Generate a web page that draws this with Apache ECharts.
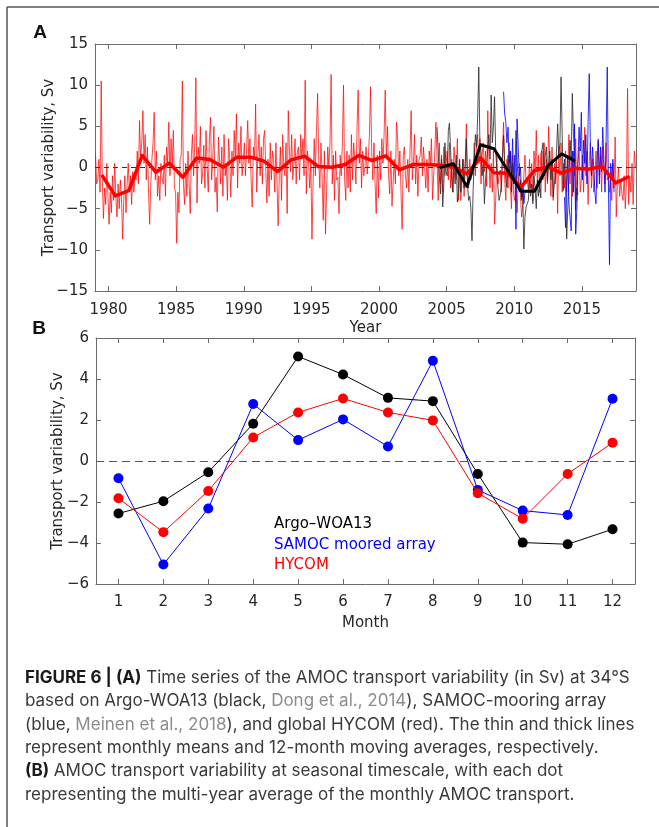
<!DOCTYPE html>
<html>
<head>
<meta charset="utf-8">
<script src="https://cdn.jsdelivr.net/npm/echarts@6/dist/echarts.min.js"></script>
<style>html,body{margin:0;padding:0;background:#fff}#c{width:659px;height:827px}</style>
</head>
<body>
<div id="c"></div>
<script>
// ---------------- Panel A data ----------------
const yearTicks = [1980, 1985, 1990, 1995, 2000, 2005, 2010, 2015];
const panelAYTicksRange = [-15, 15];

// HYCOM monthly means, Jan 1979 - Dec 2018 (Sv)
const hycomStartYear = 1979, hycomStartMonth = 0;
const hycomMonthly = [
  1.5, -2.0, -1.5, 1.0, -3.0, 10.5, -1.5, -6.2, -2.5, -4.5, 0.5, -3.5,      // 1979
  -6.9, -3.0, -5.5, -1.0, -4.0, 0.5, -3.5, -6.0, -2.0, -5.0, -1.5, -3.5,    // 1980
  -8.7, -4.0, -1.0, -5.5, -2.0, 0.5, -3.0, -1.0, -4.5, -0.5, -3.0, -1.0,    // 1981
  -1.5, 2.0, -2.0, 5.7, 1.0, 3.0, 6.9, 0.5, 4.0, -1.5, 2.5, -3.0,           // 1982
  -6.9, -2.0, 1.0, 3.0, 6.7, -1.5, 2.0, -3.5, -1.0, -4.0, 0.5, -1.2,        // 1983
  -2.0, 1.5, -3.5, 2.5, 0.5, 5.5, -1.0, 3.5, 0.0, 4.5, -2.5, -3.0,          // 1984
  -9.2, -3.0, -5.5, 1.0, 1.5, 10.5, -2.0, -4.5, 0.5, -3.5, 2.0, -2.0,       // 1985
  -5.6, 1.5, 4.0, -1.0, 3.0, 10.9, -4.3, 2.5, 0.5, 5.0, -2.0, -0.8,         // 1986
  2.7, -2.5, 4.5, 0.0, -3.0, 3.5, 6.1, -1.5, 1.0, 5.0, -3.0, -1.2,          // 1987
  -5.4, 3.7, 1.0, -2.0, 2.5, -3.5, 4.0, -1.0, 0.5, -4.0, 3.5, 1.2,          // 1988
  -3.6, 2.0, -1.0, 4.5, 1.0, 6.5, -2.5, 3.0, 0.5, 5.0, -1.0, 0.7,           // 1989
  3.0, -1.0, 2.0, 5.7, 0.5, 3.5, -1.5, -4.8, 2.5, 1.0, 7.7, -3.0,           // 1990
  1.5, 4.0, -1.0, 2.5, -2.0, 3.5, 4.5, 0.0, -4.3, 1.0, -3.5, 3.0,           // 1991
  -1.5, 2.0, 1.0, -3.0, 3.0, -2.0, -7.1, -1.0, 2.5, -4.0, 4.0, 0.2,         // 1992
  -1.0, 3.0, -5.6, 6.9, 2.0, -0.5, 4.0, -1.5, 0.5, 3.5, -2.0, 1.9,          // 1993
  2.5, -1.5, 4.0, 1.0, 3.5, -1.0, 10.6, -3.2, 2.0, 0.5, -2.5, 0.6,          // 1994
  -8.7, -2.0, 3.5, -1.0, 4.5, 9.0, 1.0, -2.5, 3.0, -1.0, -6.4, 2.0,         // 1995
  -8.1, -3.0, 2.5, 0.0, 3.0, 11.3, -2.0, 1.5, -4.0, 2.0, -1.5, -1.2,        // 1996
  -5.6, 1.5, -1.0, 3.0, 10.0, -1.5, -4.0, 2.0, -2.5, 1.5, -3.0, 4.0,        // 1997
  -1.5, 3.0, 1.0, -2.0, 5.0, 9.4, 0.5, 3.5, -2.5, 2.0, -1.0, 0.1,           // 1998
  2.5, -0.8, 1.0, 4.0, 9.8, 2.0, -1.5, 3.0, -2.0, -5.6, 1.5, -3.7,          // 1999
  2.0, -1.5, 3.5, 0.5, 4.0, 9.4, 1.0, 5.0, -1.0, -3.2, 2.0, -4.7,           // 2000
  -4.8, 1.0, -2.0, 5.5, 3.5, -1.0, 2.0, -3.0, -7.5, 1.5, 2.5, -1.0,         // 2001
  -2.5, 1.0, -3.0, 2.0, 6.9, -1.5, 0.5, 4.0, -2.0, 1.5, -3.5, 0.9,          // 2002
  1.5, 3.7, -1.0, 2.5, 0.0, -2.5, 1.0, -3.0, 2.0, 0.5, 3.5, -3.9,           // 2003
  -1.0, 2.0, 5.5, 1.0, -4.0, 3.0, -2.0, 1.5, -3.0, 2.5, -1.0, -1.1,         // 2004
  2.0, -1.5, 3.0, -2.5, 1.0, -3.0, 2.5, 0.5, -1.5, 3.5, -4.0, 0.5,          // 2005
  -4.0, -2.0, 1.0, -3.5, 0.5, 5.3, -2.0, -2.5, 1.0, -1.5, -0.5, -1.0,       // 2006
  3.0, -1.0, 2.5, 4.0, 0.5, 3.5, -2.0, 1.5, 3.0, -0.5, 2.0, -2.3,           // 2007
  6.9, 1.0, -2.5, 0.5, -3.0, 2.0, -6.9, -4.0, 1.5, -2.0, -1.0, -0.3,        // 2008
  -3.0, 2.0, 5.5, -1.5, -4.0, 1.0, -2.5, 3.0, -2.0, -5.0, 1.5, -3.3,        // 2009
  -4.0, -1.0, -5.5, -2.0, 0.5, -3.5, -6.0, -4.5, -1.0, 1.5, -2.0, -1.2,     // 2010
  -3.0, 1.0, -2.5, 0.5, -4.0, 2.0, -1.0, 4.5, -2.0, 1.5, -3.0, 1.7,         // 2011
  2.0, -1.5, 3.0, -3.0, 1.0, -2.0, 5.0, 0.5, -3.5, 2.5, -4.0, 0.5,          // 2012
  -2.0, 1.0, -5.6, 2.5, -1.0, 3.0, -3.0, 0.5, -2.5, 2.0, -3.0, -0.2,        // 2013
  4.0, -2.0, 1.5, -3.5, 2.0, -1.0, 3.5, -4.0, 0.5, 2.5, -3.0, -1.5,         // 2014
  1.5, -3.0, 4.9, -1.0, 2.0, -4.5, 0.5, 3.0, -2.5, 1.0, -3.0, -1.3,         // 2015
  2.0, -2.5, 3.5, -1.0, 1.5, -3.0, 2.5, 0.0, -2.0, 3.0, -1.5, -1.1,         // 2016
  -3.0, -1.0, -4.0, 0.5, -2.5, 3.7, -6.0, -2.0, 0.0, -3.5, -1.5, -3.2,      // 2017
  -4.0, -1.0, -5.0, -2.0, 9.6, -4.5, -1.0, -3.0, 0.5, -4.5, 2.0, 0.0        // 2018
];

// HYCOM 12-month moving average, sampled at mid-year 1979..2018
const hycomAnnualStartYear = 1979;
const hycomAnnual = [
  -0.9, -3.45, -2.8, 1.46, -0.57, 0.53, -1.18, 1.14, 0.97, 0.04,
  1.26, 1.26, 0.77, -0.49, 0.93, 1.38, 0.12, 0.04, 0.36, 1.46,
  0.85, 1.42, -0.28, 0.36, 0.36, 0.28, 0.04, -0.77, 1.18, -0.65,
  -0.69, -2.39, -0.36, 0.04, -0.69, -0.08, -0.2, 0.12, -1.87, -1.09
];

// Argo-WOA13 monthly means, Apr 2004 - Sep 2014
const argoStartYear = 2004, argoStartMonth = 3;
const argoMonthly = [
  4.9, 2.0, -1.0, -3.2, 1.0, -4.8, -2.0, 3.0, -0.5,                          // 2004
  -1.0, 4.5, 5.4, 2.1, -1.5, -3.0, 0.5, -2.0, 1.5, -4.2, -3.0, 1.0,          // 2005
  -3.0, -1.0, 1.0, -2.5, 0.5, 3.5, -2.0, -4.0, -3.5, -5.0, -8.9, -2.8,       // 2006
  1.0, 4.0, 2.5, 6.0, 12.2, 3.0, 2.0, -1.0, 0.5, -4.4, -1.5, 0.0,            // 2007
  2.5, 4.0, 1.0, 8.8, 3.0, 5.0, 8.6, 2.0, 2.1, -2.4, -4.0, -3.4,             // 2008
  -2.4, 1.0, 3.9, 0.5, -1.5, -2.4, 1.5, -1.0, 2.0, -3.0, 0.5, -2.0,          // 2009
  -1.0, 4.5, 1.0, -2.0, -3.0, -1.5, -4.0, -3.0, -9.9, -6.0, -4.8, -4.9,      // 2010
  -4.0, -1.5, -3.5, -2.0, -4.4, -1.0, -2.5, -5.0, -1.5, -3.5, -2.0, -3.7,    // 2011
  2.1, 3.0, -1.0, 1.5, 2.5, -1.6, 0.5, 2.0, -1.5, 1.0, -3.6, -2.0,           // 2012
  -1.0, 2.0, 5.3, 1.5, 3.0, 11.0, 4.0, -2.8, 1.0, -2.0, -8.7, -4.9,          // 2013
  -1.0, 3.3, 1.0, 9.0, 4.0, 2.0, -5.2, -2.5, -3.3                            // 2014
];

// Argo-WOA13 12-month moving average, mid-year 2004..2014
const argoAnnualStartYear = 2004;
const argoAnnual = [0.0, 0.45, -2.31, 2.76, 2.27, -0.3, -2.88, -2.88, 0.24, 1.66, 0.77];

// SAMOC moored array monthly means: Mar 2009 - Oct 2010, Sep 2013 - May 2017
const samoc1StartYear = 2009, samoc1StartMonth = 2;
const samocMonthly1 = [
  9.2, 6.5, 5.5, 3.0, 4.9, 0.5, 2.0, -1.0, 3.5, -2.0,
  1.5, -7.5, 5.9, 2.5, -1.0, 0.0, -3.6, -2.0, -4.4, -3.0
];
const samoc2StartYear = 2013, samoc2StartMonth = 8;
const samocMonthly2 = [
  -3.6, -7.3, -2.0, 1.5,                                                      // 2013
  -4.5, -6.0, -7.7, 2.0, -3.0, 5.3, -8.1, -5.0, 1.0, 4.9, 2.0, 6.7,           // 2014
  -1.5, 3.3, 0.5, 4.0, -2.0, 5.5, 11.4, 3.0, -1.0, 2.5, 0.0, -3.0,            // 2015
  -4.4, 1.0, 3.3, -2.0, 2.5, -0.5, 4.9, 1.0, -3.0, 3.5, 12.2, -2.0,           // 2016
  -11.8, 0.5, -1.5, 1.0, -3.0                                                 // 2017
];

// ---------------- Panel B data ----------------
const months = [1, 2, 3, 4, 5, 6, 7, 8, 9, 10, 11, 12];
const argoSeasonal  = [-2.56, -1.96, -0.55, 1.82, 5.10, 4.22, 3.08, 2.92, -0.63, -3.98, -4.06, -3.33];
const samocSeasonal = [-0.84, -5.05, -2.32, 2.78, 1.02, 2.03, 0.71, 4.89, -1.41, -2.42, -2.63, 3.04];
const hycomSeasonal = [-1.82, -3.47, -1.46, 1.15, 2.37, 3.05, 2.37, 1.98, -1.57, -2.82, -0.63, 0.89];

const seriesNames = ['Argo–WOA13', 'SAMOC moored array', 'HYCOM'];

// ---------------- helpers ----------------
function monthlyPoints(startYear, startMonth, vals) {
  return vals.map((v, i) => [startYear + (startMonth + i + 0.5) / 12, v]);
}
function annualPoints(startYear, vals) {
  return vals.map((v, i) => [startYear + i + 0.5, v]);
}
function zip(xs, ys) { return xs.map((x, i) => [x, ys[i]]); }
const minus = v => (v < 0 ? '\u2212' + Math.abs(v) : String(v));

const AX = '#6b6b6b';
const TXT = '#262626';
const FONT = 'DejaVu Sans';
const labelStyle = { color: TXT, fontFamily: FONT, fontSize: 15 };

function xAxes(grid, min, max, ticks, name, nameGap, margin) {
  return [{
    gridIndex: grid, type: 'value', min, max, position: 'bottom',
    axisLine: { show: true, onZero: false, lineStyle: { color: AX, width: 1 } },
    axisTick: { show: true, inside: true, length: 5, customValues: ticks, lineStyle: { color: AX } },
    axisLabel: Object.assign({ customValues: ticks, margin, formatter: v => String(v) }, labelStyle),
    splitLine: { show: false },
    name, nameLocation: 'middle', nameGap, nameMoveOverlap: false,
    nameTextStyle: { color: TXT, fontFamily: FONT, fontSize: 15 }
  }, {
    gridIndex: grid, type: 'value', min, max, position: 'top',
    axisLine: { show: true, onZero: false, lineStyle: { color: AX, width: 1 } },
    axisTick: { show: true, inside: true, length: 5, customValues: ticks, lineStyle: { color: AX } },
    axisLabel: { show: false },
    splitLine: { show: false }
  }];
}
function yAxes(grid, min, max, interval, name, nameGap) {
  return [{
    gridIndex: grid, type: 'value', min, max, interval, position: 'left',
    axisLine: { show: true, onZero: false, lineStyle: { color: AX, width: 1 } },
    axisTick: { show: true, inside: true, length: 5, lineStyle: { color: AX } },
    axisLabel: Object.assign({ margin: 7, formatter: minus }, labelStyle),
    splitLine: { show: false },
    name, nameLocation: 'middle', nameGap, nameRotate: 90, nameMoveOverlap: false,
    nameTextStyle: { color: TXT, fontFamily: FONT, fontSize: 15 }
  }, {
    gridIndex: grid, type: 'value', min, max, interval, position: 'right',
    axisLine: { show: true, onZero: false, lineStyle: { color: AX, width: 1 } },
    axisTick: { show: true, inside: true, length: 5, lineStyle: { color: AX } },
    axisLabel: { show: false },
    splitLine: { show: false }
  }];
}

const thin = (name, data, color, z) => ({
  name, type: 'line', xAxisIndex: 0, yAxisIndex: 0, data, showSymbol: false, symbol: 'none',
  lineStyle: { color, width: 0.9 }, itemStyle: { color }, z, silent: true
});
const thick = (name, data, color, width, z) => ({
  name, type: 'line', xAxisIndex: 0, yAxisIndex: 0, data, showSymbol: false, symbol: 'none',
  lineStyle: { color, width, join: 'round' }, itemStyle: { color }, z, silent: true
});
const seasonal = (name, data, color, z) => ({
  name, type: 'line', xAxisIndex: 2, yAxisIndex: 2, data,
  symbol: 'circle', symbolSize: 10, showSymbol: true,
  lineStyle: { color, width: 1 }, itemStyle: { color, borderWidth: 0 }, z, silent: true
});

// ---------------- caption ----------------
const captionLines = [
  '{b|FIGURE 6 | (A)} Time series of the AMOC transport variability (in Sv) at 34°S',
  'based on Argo-WOA13 (black, {g|Dong et al., 2014}), SAMOC-mooring array',
  '(blue, {g|Meinen et al., 2018}), and global HYCOM (red). The thin and thick lines',
  'represent monthly means and 12-month moving averages, respectively.',
  '{b|(B)} AMOC transport variability at seasonal timescale, with each dot',
  'representing the multi-year average of the monthly AMOC transport.'
];
const CAP_FONT = 'Inter';
// fit the first caption line to the width it has in the figure
const capCanvas = document.createElement('canvas').getContext('2d');
function capWidth(size) {
  capCanvas.font = 'bold ' + size + 'px "' + CAP_FONT + '"';
  let w = capCanvas.measureText('FIGURE 6 | (A)').width;
  capCanvas.font = size + 'px "' + CAP_FONT + '"';
  w += capCanvas.measureText(' Time series of the AMOC transport variability (in Sv) at 34°S').width;
  return w;
}
const CAP_SIZE = Math.max(14, Math.min(17, 16 * 606 / capWidth(16)));
const captionGraphics = captionLines.map((t, i) => ({
  type: 'text', x: 25, y: 678 + i * 23.3, silent: true,
  style: {
    text: t, fill: '#3a3a3a', fontFamily: CAP_FONT, fontSize: CAP_SIZE, verticalAlign: 'middle',
    rich: {
      b: { fontWeight: 'bold', fill: '#1a1a1a', fontFamily: CAP_FONT, fontSize: CAP_SIZE },
      g: { fill: '#8c8c8c', fontFamily: CAP_FONT, fontSize: CAP_SIZE }
    }
  }
}));

const chart = echarts.init(document.getElementById('c'), null, { renderer: 'canvas', width: 659, height: 827 });
chart.setOption({
  animation: false,
  backgroundColor: '#fff',
  grid: [
    { left: 95, top: 44, width: 541, height: 247, outerBoundsMode: 'none', containLabel: false },
    { left: 96, top: 338, width: 539, height: 246, outerBoundsMode: 'none', containLabel: false }
  ],
  xAxis: [
    ...xAxes(0, 1979, 2019, yearTicks, 'Year', 30, 12),
    ...xAxes(1, 0.5, 12.5, months, 'Month', 32, 11)
  ],
  yAxis: [
    ...yAxes(0, panelAYTicksRange[0], panelAYTicksRange[1], 5, 'Transport variability, Sv', 38),
    ...yAxes(1, -6, 6, 2, 'Transport variability, Sv', 30)
  ],
  legend: {
    data: [
      { name: seriesNames[0], textStyle: { color: '#000' } },
      { name: seriesNames[1], textStyle: { color: '#0000ff' } },
      { name: seriesNames[2], textStyle: { color: '#ff0000' } }
    ],
    orient: 'vertical', left: 269, top: 517, icon: 'none', itemWidth: 0, itemHeight: 15, itemGap: 5.5,
    selectedMode: false, padding: 0,
    textStyle: { fontFamily: FONT, fontSize: 15, lineHeight: 15 }
  },
  graphic: [
    { type: 'line', shape: { x1: 7, y1: 7, x2: 7, y2: 827 }, style: { stroke: '#555', lineWidth: 1.5 }, silent: true },
    { type: 'line', shape: { x1: 7, y1: 7, x2: 659, y2: 7 }, style: { stroke: '#555', lineWidth: 1.5 }, silent: true },
    { type: 'text', x: 40, y: 33, silent: true,
      style: { text: 'A', fill: '#111', fontFamily: 'Liberation Sans', fontWeight: 'bold', fontSize: 19, align: 'center', verticalAlign: 'middle' } },
    { type: 'text', x: 39, y: 329, silent: true,
      style: { text: 'B', fill: '#111', fontFamily: 'Liberation Sans', fontWeight: 'bold', fontSize: 19, align: 'center', verticalAlign: 'middle' } },
    ...captionGraphics
  ],
  series: [
    Object.assign(thin('HYCOM monthly', monthlyPoints(hycomStartYear, hycomStartMonth, hycomMonthly), 'rgba(255,0,0,0.8)', 2), {
      markLine: {
        silent: true, symbol: 'none', label: { show: false },
        lineStyle: { color: '#333', type: [5, 4], width: 1 },
        data: [{ yAxis: 0 }]
      }
    }),
    thin('Argo-WOA13 monthly', monthlyPoints(argoStartYear, argoStartMonth, argoMonthly), 'rgba(40,40,40,0.9)', 3),
    thin('SAMOC monthly 1', monthlyPoints(samoc1StartYear, samoc1StartMonth, samocMonthly1), 'rgba(0,0,255,0.9)', 4),
    thin('SAMOC monthly 2', monthlyPoints(samoc2StartYear, samoc2StartMonth, samocMonthly2), 'rgba(0,0,255,0.9)', 4),
    thick('HYCOM 12-month', annualPoints(hycomAnnualStartYear, hycomAnnual), '#ff0000', 3.5, 5),
    thick('Argo 12-month', annualPoints(argoAnnualStartYear, argoAnnual), '#000', 3, 6),
    Object.assign(seasonal(seriesNames[0], zip(months, argoSeasonal), '#000', 7), {
      markLine: {
        silent: true, symbol: 'none', label: { show: false },
        lineStyle: { color: '#555', type: [8, 5], width: 1.2 },
        data: [{ yAxis: 0 }]
      }
    }),
    seasonal(seriesNames[1], zip(months, samocSeasonal), '#0000ff', 8),
    seasonal(seriesNames[2], zip(months, hycomSeasonal), '#ff0000', 9)
  ]
});
</script>
</body>
</html>
